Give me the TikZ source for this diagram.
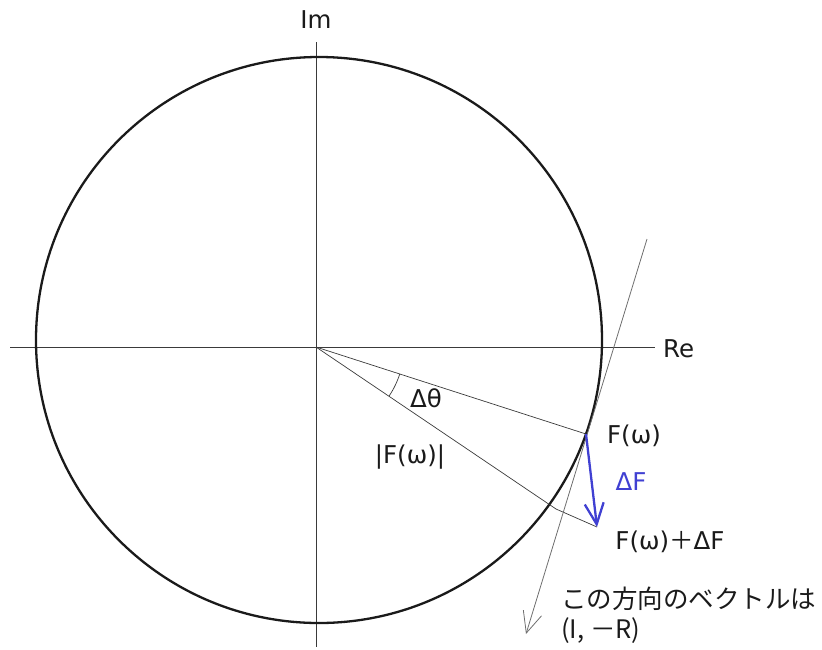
\documentclass[tikz,border=0pt]{standalone}
\usepackage{fontspec}
\setmainfont{DejaVu Sans}
\newfontfamily\jpfont{Noto Sans CJK JP}
\usetikzlibrary{arrows.meta}
\definecolor{ink}{HTML}{1A1A1A}
\definecolor{axisgray}{HTML}{3A3A3A}
\definecolor{tangray}{HTML}{6E6E6E}
\definecolor{dfblue}{HTML}{4040D2}

\begin{document}
\begin{tikzpicture}[x=1pt,y=-1pt,every node/.style={font=\fontsize{24.5}{29}\selectfont,text=ink,inner sep=0pt},axis/.style={axisgray,line width=.8pt},rim/.style={ink,line width=2.3pt},radial/.style={axisgray,line width=.7pt},tangent/.style={tangray,line width=.8pt,-{Straight Barb[length=21pt,width=19pt]}},delta/.style={dfblue,line width=2.3pt,-{Straight Barb[length=21pt,width=19pt]}}]
\useasboundingbox (0,0) rectangle (822,649);
\coordinate (ReL) at (10,347);\coordinate (ReR) at (655,347);\coordinate (ImT) at (316,42);\coordinate (ImB) at (316,647);
\coordinate (O) at (316,347);\coordinate (C) at (319,340);
\coordinate (F) at (586,434);\coordinate (FdF) at (597,527);\coordinate (K) at (556,509);
\coordinate (T1) at (647,239);\coordinate (T2) at (526,634);
\draw[axis] (ReL)--(ReR);\draw[axis] (ImT)--(ImB);
\draw[rim] (C) circle[radius=283pt];
\draw[radial] (O)--(F);\draw[radial] (O)--(K)--(FdF);
\draw[radial] (O) ++(17.86:88) arc[start angle=17.86,end angle=34,radius=88];
\draw[tangent] (T1)--(T2);
\draw[delta] (F)--(FdF);
\node (imlab) at (316,20){Im};\node[anchor=west] (relab) at (663,349){Re};
\node (dthlab) at (426,398){Δθ};\node (abslab) at (410,457){|F(ω)|};
\node (flab) at (634,436){F(ω)};\node[text=dfblue] (dflab) at (631,482){ΔF};
\node (fdflab) at (670,542){F(ω){\jpfont ＋}ΔF};
\node[anchor=north west,align=left,font=\jpfont\fontsize{25.5}{30}\selectfont] (note) at (561,587){この方向のベクトルは\\(I, －R)};
\end{tikzpicture}
\end{document}
